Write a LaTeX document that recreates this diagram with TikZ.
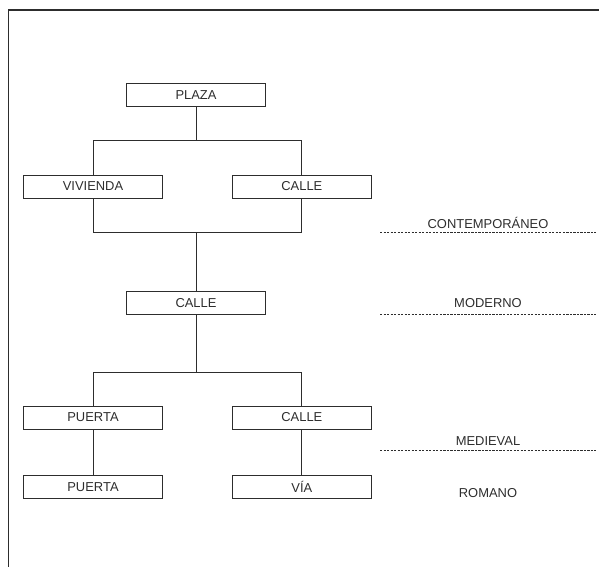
\documentclass[tikz,border=0pt]{standalone}
\usepackage{fontspec}
\setmainfont{Liberation Sans}
\usepackage{tikz}
\usetikzlibrary{positioning}
\usetikzlibrary{calc}
\definecolor{tinta}{RGB}{45,45,45}
\tikzstyle{caja} = [rectangle, draw=tinta, text=tinta, minimum width=3.475cm, minimum height=0.575cm, inner sep=0pt, text centered]
\tikzstyle{epoca} = [text=tinta, text centered, inner sep=0pt]
\tikzstyle{corte} = [draw=tinta, line width=0.5pt, dash pattern=on 1.6pt off 0.9pt]
\tikzstyle{rama} = [draw=tinta, line width=0.6pt]

\begin{document}
\begin{tikzpicture}[node distance=1.15cm and 1.725cm, font=\fontsize{9.2}{11}\selectfont, line width=0.6pt]
            \useasboundingbox (0,0) rectangle (14.975,-14.175);
            % marco
            \draw[tinta, line width=0.8pt] (0.21,-14.4) -- (0.21,-0.25) -- (15.2,-0.25);

            \node [caja] at (4.9,-2.375) (plaza) {PLAZA};
            \node [caja] at (2.325,-4.6625) (vivienda) {VIVIENDA};
            \node [caja, right= of vivienda] (calle1) {CALLE};
            \node [caja, below=4.6cm of plaza] (calle2) {CALLE};
            \node [caja] at (2.325,-10.4375) (puerta1) {PUERTA};
            \node [caja, right= of puerta1] (calle3) {CALLE};
            \node [caja, below= of puerta1] (puerta2) {PUERTA};
            \node [caja, right= of puerta2] (via) {VÍA};

            \draw[rama](plaza.south) -- ++(0,-0.84) coordinate (j1) -| (vivienda.north);
            \draw[rama](j1) -| (calle1.north);

            \draw[rama](vivienda.south) -- ++(0,-0.86) coordinate (j2) -| (calle1.south);
            \draw[rama](j2 -| calle2.north) -- (calle2.north);

            \draw[rama](calle2.south) -- ++(0,-1.44) coordinate (j3) -| (puerta1.north);
            \draw[rama](j3) -| (calle3.north);

            \draw[rama](puerta1) -- (puerta2);
            \draw[rama](calle3) -- (via);

            % epocas
            \node [epoca] at (12.2,-5.58) (contemp) {CONTEMPORÁNEO};
            \node [epoca] at (12.2,-7.58) (moderno) {MODERNO};
            \node [epoca] at (12.2,-11.02) (medieval) {MEDIEVAL};
            \node [epoca] at (12.2,-12.33) (romano) {ROMANO};

            \draw[corte] (9.5,-5.8175) -- (14.9,-5.8175);
            \draw[corte] (9.5,-7.85) -- (14.9,-7.85);
            \draw[corte] (9.5,-11.27) -- (14.9,-11.27);
        \end{tikzpicture}
\end{document}
